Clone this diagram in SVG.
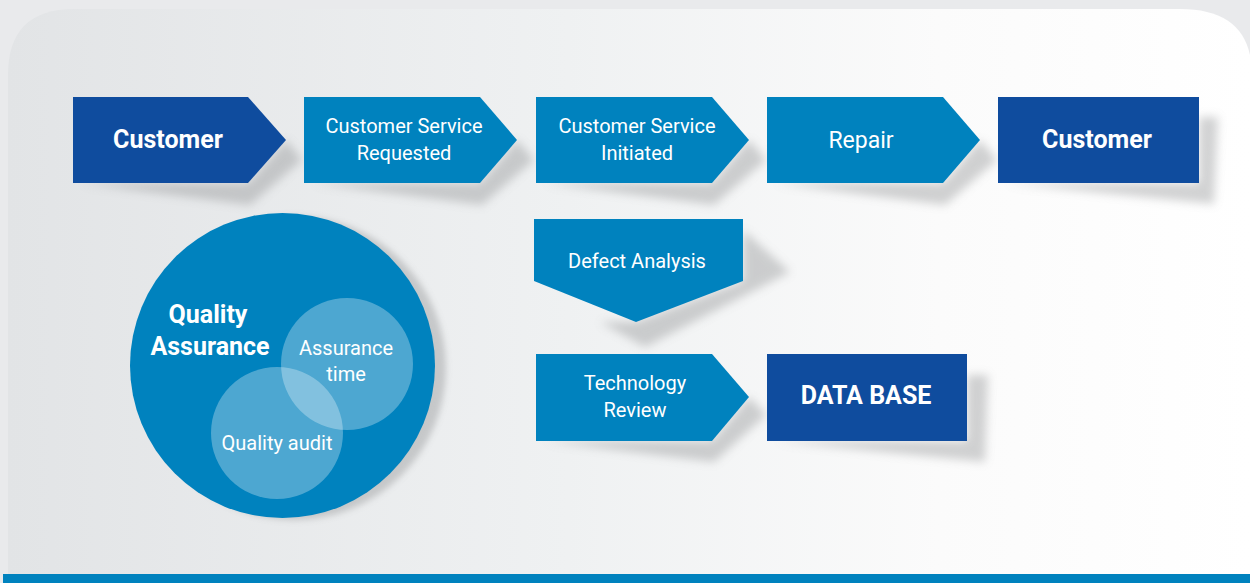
<svg xmlns="http://www.w3.org/2000/svg" width="1250" height="583" viewBox="0 0 1250 583">
<defs>
<linearGradient id="panel" x1="0" y1="0" x2="1" y2="0">
<stop offset="0" stop-color="#e2e4e6"/>
<stop offset="0.45" stop-color="#eff1f2"/>
<stop offset="0.75" stop-color="#fbfbfb"/>
<stop offset="1" stop-color="#ffffff"/>
</linearGradient>
<filter id="blur" x="-20%" y="-20%" width="140%" height="140%"><feGaussianBlur stdDeviation="5"/></filter>
<filter id="blur2" x="-20%" y="-20%" width="140%" height="140%"><feGaussianBlur stdDeviation="3"/></filter>
<style>
.dark{fill:#0f4c9e}
.light{fill:#0082be}
.shadow{fill:#8e9092;opacity:0.4;filter:url(#blur)}
.sub{fill:#ffffff;fill-opacity:0.3}
.t{font-family:Roboto,"DejaVu Sans",sans-serif;fill:#ffffff;text-anchor:middle}
.b{font-weight:bold;font-size:25px}
.r{font-size:20px}
.rl{font-size:23px}
</style>
</defs>
<rect width="1250" height="583" fill="#e9eaec"/>
<path d="M8,583 L8,75 Q8,9 74,9 L1180,9 Q1240,9 1250,55 L1250,583 Z" fill="url(#panel)"/>
<rect x="3" y="574" width="1247" height="9" fill="#0082be"/>

<g id="shadows">
<polygon class="shadow" points="80,183 250,205 302,160 286,140 248,183"/>
<polygon class="shadow" points="312,183 482,205 534,160 517,140 480,183"/>
<polygon class="shadow" points="544,183 714,205 766,160 749,140 712,183"/>
<polygon class="shadow" points="775,183 945,205 997,160 980,140 943,183"/>
<polygon class="shadow" points="1005,183 1214,204 1218,117 1199,117 1199,183"/>
<polygon class="shadow" points="743,230 790,272 645,347 600,322 636,322 743,281"/>
<polygon class="shadow" points="544,441 714,462 766,415 749,397 712,441"/>
<polygon class="shadow" points="775,441 985,462 988,375 967,375 967,441"/>
<circle cx="294" cy="368" r="152" fill="#8e9092" opacity="0.4" filter="url(#blur2)"/>
</g>

<g id="n-customer1"><polygon class="dark" points="73,97 248,97 286,140 248,183 73,183"/><text class="t b" x="168" y="148">Customer</text></g>
<g id="n-csr"><polygon class="light" points="304,97 480,97 517,140 480,183 304,183"/><text class="t r" x="404" y="133">Customer Service</text><text class="t r" x="404" y="160">Requested</text></g>
<g id="n-csi"><polygon class="light" points="536,97 712,97 749,140 712,183 536,183"/><text class="t r" x="637" y="133">Customer Service</text><text class="t r" x="637" y="160">Initiated</text></g>
<g id="n-repair"><polygon class="light" points="767,97 943,97 980,140 943,183 767,183"/><text class="t rl" x="861" y="148">Repair</text></g>
<g id="n-customer2"><rect class="dark" x="998" y="97" width="201" height="86"/><text class="t b" x="1097" y="148">Customer</text></g>
<g id="n-defect"><polygon class="light" points="534,219 743,219 743,281 636,322 534,281"/><text class="t r" x="637" y="268">Defect Analysis</text></g>
<g id="n-tech"><polygon class="light" points="536,354 712,354 749,397 712,441 536,441"/><text class="t r" x="635" y="390">Technology</text><text class="t r" x="635" y="417">Review</text></g>
<g id="n-database"><rect class="dark" x="767" y="354" width="200" height="87"/><text class="t b" x="866" y="404">DATA BASE</text></g>
<g id="n-qa">
<circle class="light" cx="282.5" cy="365.5" r="152.5"/>
<circle class="sub" cx="347" cy="364" r="66"/>
<circle class="sub" cx="277" cy="433" r="66"/>
<text class="t b" x="208" y="323">Quality</text>
<text class="t b" x="210" y="355">Assurance</text>
<text class="t r" x="346" y="355">Assurance</text>
<text class="t r" x="346" y="381">time</text>
<text class="t r" x="277" y="450">Quality audit</text>
</g>
<g id="connectors"/>
</svg>
